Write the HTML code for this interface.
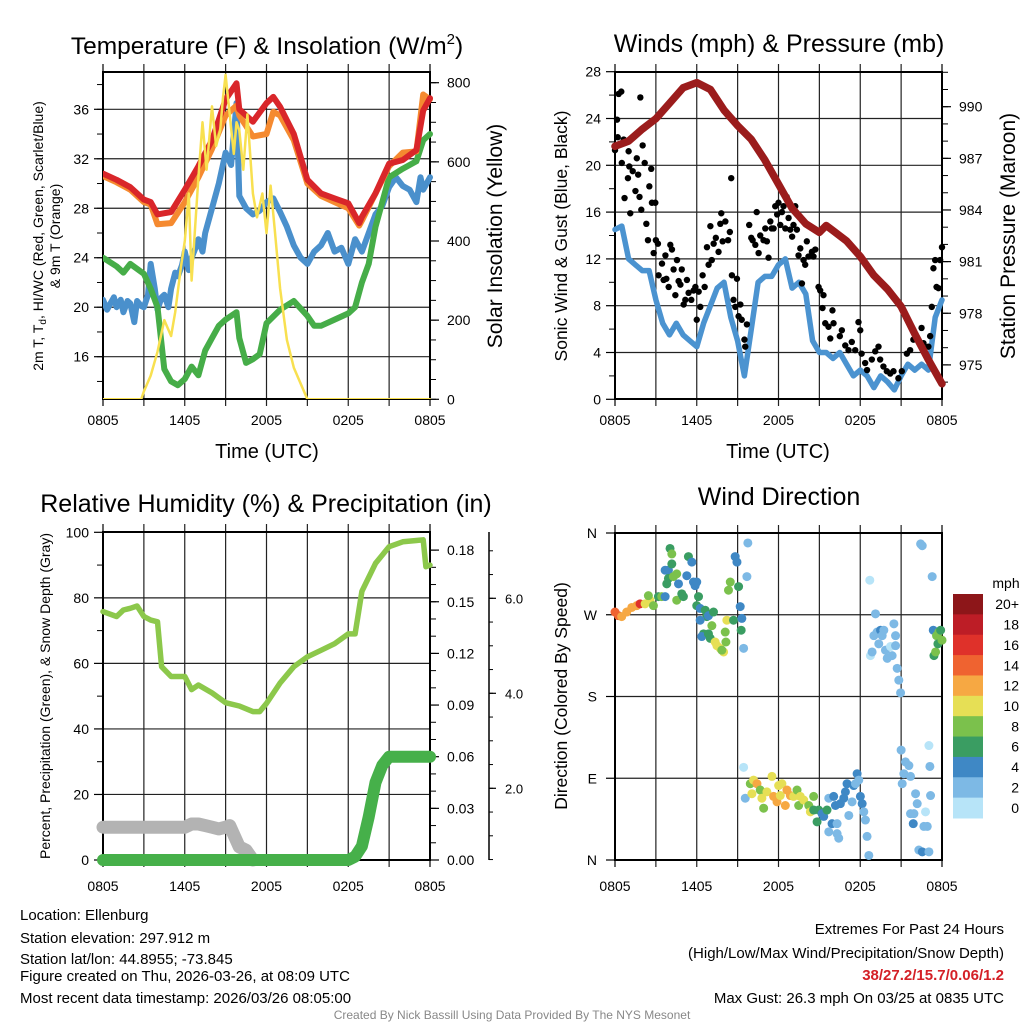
<!DOCTYPE html>
<html><head><meta charset="utf-8"><title>Mesonet Meteogram</title>
<style>
html,body{margin:0;padding:0;background:#fff;}
svg{display:block;font-family:"Liberation Sans",Arial,sans-serif;}
</style></head>
<body>
<svg id="chart" width="1024" height="1024" viewBox="0 0 1024 1024" xmlns="http://www.w3.org/2000/svg">
<rect x="0" y="0" width="1024" height="1024" fill="#fff"/>
<g id="g1"></g>
<g id="g2"></g>
<g id="g3"></g>
<g id="g4"></g>

<text x="267" y="54" font-size="24.5" text-anchor="middle">Temperature (F) &amp; Insolation (W/m<tspan font-size="15" dy="-10">2</tspan><tspan dy="10">)</tspan></text>
<text x="779" y="52" font-size="25" text-anchor="middle">Winds (mph) &amp; Pressure (mb)</text>
<text x="266" y="512" font-size="25" text-anchor="middle">Relative Humidity (%) &amp; Precipitation (in)</text>
<text x="779" y="505" font-size="25" text-anchor="middle">Wind Direction</text>

<text x="267" y="458" font-size="20" text-anchor="middle">Time (UTC)</text>
<text x="778" y="458" font-size="20" text-anchor="middle">Time (UTC)</text>

<text transform="translate(43,236) rotate(-90)" font-size="14" text-anchor="middle">2m T, T<tspan font-size="10" dy="3">d</tspan><tspan dy="-3">, HI/WC (Red, Green, Scarlet/Blue)</tspan></text>
<text transform="translate(60,236) rotate(-90)" font-size="14" text-anchor="middle">&amp; 9m T (Orange)</text>
<text transform="translate(502,236) rotate(-90)" font-size="21" text-anchor="middle">Solar Insolation (Yellow)</text>
<text transform="translate(567,236) rotate(-90)" font-size="17.5" text-anchor="middle">Sonic Wind &amp; Gust (Blue, Black)</text>
<text transform="translate(1015,236) rotate(-90)" font-size="21" text-anchor="middle">Station Pressure (Maroon)</text>
<text transform="translate(50,696) rotate(-90)" font-size="14" text-anchor="middle">Percent, Precipitation (Green), &amp; Snow Depth (Gray)</text>
<text transform="translate(567,696) rotate(-90)" font-size="17.5" text-anchor="middle">Direction (Colored By Speed)</text>

<g font-size="15">
<text x="20" y="920">Location: Ellenburg</text>
<text x="20" y="943">Station elevation: 297.912 m</text>
<text x="20" y="964">Station lat/lon: 44.8955; -73.845</text>
<text x="20" y="981">Figure created on Thu, 2026-03-26, at 08:09 UTC</text>
<text x="20" y="1003">Most recent data timestamp: 2026/03/26 08:05:00</text>
</g>
<g font-size="15" text-anchor="end">
<text x="1004" y="934">Extremes For Past 24 Hours</text>
<text x="1004" y="958">(High/Low/Max Wind/Precipitation/Snow Depth)</text>
<text x="1004" y="980" fill="#d42027" font-weight="bold">38/27.2/15.7/0.06/1.2</text>
<text x="1004" y="1003">Max Gust: 26.3 mph On 03/25 at 0835 UTC</text>
</g>
<text x="512" y="1019" font-size="12" fill="#888" text-anchor="middle">Created By Nick Bassill Using Data Provided By The NYS Mesonet</text>
</svg>
<script>
// ---------- data ----------
const xTickLabels = ["0805","1405","2005","0205","0805"];
const tempTicks = [16,20,24,28,32,36];
const solarTicks = [0,200,400,600,800];
const windTicks = [0,4,8,12,16,20,24,28];
const presTicks = [975,978,981,984,987,990];
const rhTicks = [0,20,40,60,80,100];
const precipTicks = [0.00,0.03,0.06,0.09,0.12,0.15,0.18];
const precipTickLabels = ["0.00","0.03","0.06","0.09","0.12","0.15","0.18"];
const snowTickLabels = ["2.0","4.0","6.0"];
const dirTickLabels = ["N","E","S","W","N"];
const speedBins = ["0","2","4","6","8","10","12","14","16","18","20+"];

const tempT   = [0,1,2,3,3.5,4,5,6,7,8,9,9.8,10,11,12,12.5,13,14,15,16,17,18,18.8,19,20,21,22,23,23.5,24];
const tempRed = [30.8,30.3,29.7,28.7,28.5,27.5,27.7,29.5,31.4,33.5,36.8,38.1,36,35,36.5,37,36.2,34,30.3,29.2,28.8,28.4,26.8,27.3,29.2,31.6,31.9,32.7,35.9,36.9];
const tempOrange = [30.6,30.1,29.5,28.5,28.3,26.7,26.8,28.5,30.5,32.8,35.5,36.3,35.5,33.8,34.0,35.8,35.5,33.5,30.0,29.0,28.5,28.0,26.6,27.0,29.2,31.4,32.5,32.6,37.2,36.8];
const wcT    = [0,0.3,0.5,0.8,1,1.3,1.5,1.8,2,2.3,2.5,2.8,3,3.3,3.5,3.8,4,4.3,4.5,4.8,5,5.3,5.5,5.8,6,6.3,6.5,6.8,7,7.3,7.5,8,8.5,9,9.4,9.8,10,10.5,11,11.5,12,12.5,13,13.5,14,14.5,15,15.5,16,16.5,17,17.5,18,18.5,19,19.5,20,20.5,21,21.5,22,22.5,23,23.3,23.5,24];
const wcBlue = [20.6,19.8,20.2,20.8,20.0,20.6,19.6,20.5,20.3,18.8,20.5,20.1,20.0,21.0,23.5,21.5,19.8,20.8,21.0,20.0,21.5,22.8,22.5,23.4,24.5,23.0,24.0,24.8,25.5,24.5,26.0,28.0,30.0,32.5,31.5,36.5,29.0,28.0,27.5,27.8,28.5,28.8,27.7,26.5,25.0,24.0,23.5,24.5,25.0,26.0,24.5,24.8,23.5,25.5,24.5,26.0,27.5,28.2,29.7,30.5,29.8,29.5,28.5,30.5,29.5,30.5];
const dewT   = [0,1,1.5,2,3,3.5,4,4.5,5,5.5,6,6.5,7,7.5,8,8.5,9,9.8,10,10.5,11,11.5,12,13,14,15,15.5,16,17,18,18.5,19,19.5,20,21,22,23,23.5,24];
const dewGreen=[24,23.3,22.8,23.5,22.7,21.5,20.0,15.0,14.0,13.7,14.2,15.2,14.5,16.5,17.5,18.5,19.0,19.6,17.5,15.5,15.8,16.2,18.7,19.8,20.5,19.3,18.5,18.5,19.0,19.5,20.0,22.0,23.5,26.5,30.5,31.2,31.8,33.5,34.0];
const solarT = [0,2.8,3,3.5,4,4.5,5,5.3,5.7,6,6.3,6.5,7,7.3,7.6,8,8.3,8.6,8.8,9,9.3,9.6,9.8,10,10.3,10.6,11,11.3,11.7,12,12.3,12.6,13,13.5,14,14.5,15,24];
const solarV = [0,0,20,60,120,200,160,220,330,400,520,300,560,700,580,740,640,680,760,820,720,620,700,680,580,720,520,460,520,420,540,430,280,150,80,40,0,0];

const windT = [0,0.5,1,1.5,2,2.5,3,3.5,4,4.5,5,5.5,6,6.5,7,7.5,8,8.5,9,9.5,10,10.5,11,11.5,12,12.5,13,13.5,14,14.5,15,15.5,16,16.5,17,17.5,18,18.5,19,19.5,20,20.5,21,21.5,22,22.5,23,23.5,24];
const windV = [14.5,14.8,12,11.5,11.0,11,8.5,6.5,5.5,6.5,5.5,5.0,4.5,6.5,8.0,9.5,10.0,7.0,5.0,2.0,6.0,10.0,10.5,10.5,11.5,12.0,9.5,10,9.0,5.0,4.0,4.0,3.5,4.0,3.0,2.0,2.5,2.0,1.0,2.0,1.5,0.8,2.0,3.0,2.5,3.0,2.5,7.0,8.5];
const gustT = [0,0.15,0.27,0.46,0.2,0.5,0.64,0.7,0.95,1.0,1.05,1.12,1.3,1.5,1.6,1.7,1.8,1.86,1.93,2.03,2.18,2.3,2.42,2.52,2.66,2.71,2.84,2.96,3.0,3.15,3.2,3.45,3.57,3.7,3.77,3.94,4.06,4.18,4.3,4.43,4.55,4.67,4.8,4.9,5.04,5.16,5.28,5.4,5.6,5.77,5.9,6.0,6.14,6.26,6.43,6.58,6.75,6.87,7.0,7.1,7.24,7.4,7.6,7.73,7.8,7.9,8.1,8.3,8.43,8.53,8.58,8.7,8.83,8.95,9.07,9.2,9.3,9.5,9.56,9.68,9.85,10.0,10.1,10.3,10.4,10.54,10.66,10.9,11.03,11.15,11.27,11.4,11.5,11.64,11.76,11.9,12.0,12.13,12.25,12.37,12.5,12.6,12.74,12.86,13.0,13.1,13.23,13.35,13.47,13.6,13.72,13.84,13.96,14.08,14.2,14.45,14.57,14.7,14.94,15.06,15.3,15.23,15.43,15.67,15.8,15.96,16.04,16.5,16.65,16.9,17.14,17.38,17.63,17.87,18.0,18.1,18.36,18.5,18.85,19.1,19.34,19.46,19.7,19.95,20.2,20.44,20.8,21.05,21.42,21.66,21.9,22.15,22.5,22.64,23.0,23.13,23.25,23.37,23.5,23.6,23.74,23.86,24.0];
const gustV = [21.3,23.9,26.1,26.3,22.4,20.2,22.2,17.2,18.9,21.2,19.9,15.9,19.5,17.8,20.6,19.2,17.3,25.8,16.2,21.7,20.2,15.0,13.6,18.2,19.7,16.8,12.5,16.8,13.6,13.3,10.6,11.6,10.2,12.3,10.3,9.6,13.2,12.8,11.1,8.9,11.9,10.1,9.8,11.1,8.1,8.5,10.2,9.1,8.5,9.3,9.6,6.8,9.2,7.9,10.6,9.6,13.0,11.5,14.8,11.9,13.3,13.8,12.6,15.0,15.9,13.5,15.2,13.6,14.3,18.9,10.6,8.5,7.9,10.3,7.1,8.1,6.8,5.1,4.5,6.4,14.9,13.8,13.6,13.2,16.0,12.5,14.0,13.6,14.6,13.5,12.1,15.2,14.6,14.6,16.5,15.8,16.8,14.9,16.0,16.5,14.6,17.3,15.5,14.5,13.9,14.9,16.5,14.5,12.3,12.9,9.9,11.9,11.5,13.5,12.2,12.6,12.2,12.8,9.6,9.3,8.9,7.8,6.5,6.2,5.2,7.6,6.5,5.4,5.9,4.6,4.2,4.9,4.2,6.6,5.9,3.9,3.1,2.5,3.4,4.1,4.5,3.4,2.8,2.4,2.2,2.4,1.8,2.4,3.9,4.2,5.1,5.2,6.1,4.8,4.5,5.4,7.9,11.2,11.9,9.6,9.5,11.9,13.0];
const presT = [0,1,2,3,4,5,6,7,8,9,10,11,12,13,14,15,15.5,16,17,18,19,20,21,22,23,24];
const presV = [987.7,988.0,988.7,989.3,990.2,991.1,991.4,991.0,989.8,988.9,988.1,986.9,985.5,984.1,983.2,982.7,983.1,982.8,982.2,981.3,980.2,979.4,978.4,976.8,975.3,973.9];

const rhT = [0,1,1.5,2,2.5,3,3.5,4,4.3,5,6,6.5,7,8,9,10,11,11.5,12,13,14,15,16,17,18,18.5,19,20,21,22,23,23.5,23.7,24];
const rhV = [75.8,74.3,76.3,76.8,77.5,74.3,73.2,72.7,59,56,56,52,53.4,51,48,47,45.3,45.3,47.8,54,59,62,64,66,69,69,82,90.5,95.6,97.1,97.5,97.7,89.5,90];
const precipT = [0,18,18.5,19,19.5,20,20.5,21,24];
const precipV = [0,0,0.002,0.008,0.025,0.045,0.055,0.06,0.06];
const snowT = [0,6,6.5,7,7.5,8,8.5,9,9.3,10,10.5,11];
const snowV = [10,10,11,11,10.5,10,9.5,10,10.5,4,3,0];

const dirT = [0,0.25,0.49,0.86,1.23,1.59,1.84,2.21,2.57,2.45,2.82,3.19,3.43,3.68,3.68,3.92,4.04,4.17,4.17,3.92,3.8,4.29,4.53,4.53,4.66,4.9,5.02,5.27,5.39,5.64,5.76,5.88,6.0,6.13,6.0,6.25,6.62,6.74,6.86,6.25,6.5,6.37,6.86,6.99,7.11,7.23,7.35,7.48,7.72,7.97,7.84,8.21,8.09,8.14,8.46,8.33,8.7,8.82,8.95,9.07,9.19,9.31,9.26,9.44,9.68,9.75,
9.44,9.56,9.93,10.05,10.17,10.42,10.66,10.78,10.91,11.15,11.52,11.64,11.89,12.01,12.13,12.25,12.5,12.62,12.87,13.11,13.36,13.48,13.6,13.85,14.22,14.34,14.58,14.58,14.83,14.95,15.2,15.32,15.56,15.69,15.69,15.93,16.05,16.18,16.3,16.42,16.3,16.54,16.79,16.91,17.03,17.16,17.4,17.52,17.65,17.77,17.89,18.01,18.14,18.26,18.38,18.5,18.63,
18.7,18.75,18.87,19.0,19.12,19.24,19.36,19.49,19.61,19.73,19.85,19.98,20.22,20.34,20.47,20.59,20.59,20.71,20.83,20.96,21.0,21.08,21.2,21.32,21.57,21.69,21.69,21.94,21.89,22.06,22.18,22.3,22.43,22.55,22.55,22.67,22.79,22.92,23.04,23.04,23.11,23.16,23.28,23.36,23.41,23.53,23.6,23.7,23.77,23.9,24.0];
const dirDeg = [273,269,268,273,278,280,282,282,286,291,280,290,290,290,319,319,343,337,326,310,304,312,315,286,304,293,290,313,334,328,306,302,306,290,280,277,275,268,269,264,249,246,249,244,258,273,240,236,233,229,231,264,251,240,306,297,264,334,328,301,279,266,253,233,312,349,
102,68,84,73,88,84,77,68,57,75,92,70,64,82,71,84,60,77,71,70,77,60,70,66,60,53,70,55,42,55,51,48,55,68,31,40,70,60,29,24,40,62,68,75,84,49,64,82,84,95,88,70,62,53,44,26,5,
308,225,229,247,271,251,238,253,247,253,231,222,235,225,260,247,236,211,198,184,121,84,95,108,104,92,51,51,40,73,62,11,348,346,9,37,53,37,126,9,103,71,312,253,225,229,247,238,251,253,242];
const dirSpd = [14,14,13,13,12,12,16,10,10,8,8,6,8,4,4,4,6,8,6,6,6,8,8,8,4,6,6,4,6,4,4,4,4,6,6,4,6,6,4,4,6,4,6,6,8,6,10,10,10,10,8,10,8,8,8,8,6,4,4,6,4,4,6,2,2,2,
1,2,8,10,10,12,8,10,8,10,10,12,12,10,10,10,12,12,12,10,8,8,10,10,8,10,8,6,6,6,4,4,6,2,2,4,4,4,2,2,2,4,4,4,4,2,2,4,2,4,2,4,4,2,2,2,2,
0,0,2,2,2,2,2,4,2,2,2,2,0,2,2,2,2,2,2,2,2,2,2,2,2,2,2,2,4,2,2,2,2,2,4,2,0,2,0,2,2,2,2,4,6,8,8,6,8,6,8];
const speedColors = ["#b7e4f8","#7db9e5","#3f88c5","#3a9d62","#7bc14c","#e6df55","#f6a843","#ef6330","#df312a","#bd1d26","#8d1619"];

// ---------- helpers ----------
const NS = "http://www.w3.org/2000/svg";
function mk(parent, tag, attrs){ const e=document.createElementNS(NS,tag); for(const k in attrs) e.setAttribute(k,attrs[k]); parent.appendChild(e); return e; }
function line(parent,x1,y1,x2,y2,w,c){ return mk(parent,"line",{x1,y1,x2,y2,stroke:c||"#000","stroke-width":w||1}); }
function txt(parent,x,y,s,size,anchor){ const e=mk(parent,"text",{x,y,"font-size":size,"text-anchor":anchor||"middle"}); e.textContent=s; return e; }
function linear(d0,d1,r0,r1){ return v=>r0+(v-d0)*(r1-r0)/(d1-d0); }
function pathD(xs,ys,sx,sy){ return xs.map((t,i)=>(i?"L":"M")+sx(t).toFixed(1)+","+sy(ys[i]).toFixed(1)).join(""); }

function frame(g,x0,x1,y0,y1,hticks,sy){
  for(let h=3;h<24;h+=3){ const x=linear(0,24,x0,x1)(h); line(g,x,y0-8,x,y1+7,1.2,"#222"); }
  line(g,x0,y0-8,x0,y0,1.2); line(g,x1,y0-8,x1,y0,1.2);
  line(g,x0,y1,x0,y1+7,1.2); line(g,x1,y1,x1,y1+7,1.2);
  hticks.forEach(v=>{ const y=sy(v); line(g,x0,y,x1,y,1.2,"#222"); });
  const r=mk(g,"rect",{x:x0,y:y0,width:x1-x0,height:y1-y0,fill:"none",stroke:"#000","stroke-width":2});
  
  
}
function xLabels(g,x0,x1,y){
  xTickLabels.forEach((s,i)=>{ const t=txt(g,linear(0,4,x0,x1)(i),y,s,14);
    
     });
}

// ---------- panel 1 ----------
(function(){
  const g=document.getElementById("g1");
  const x0=103,x1=430,y0=72,y1=399;
  const sx=linear(0,24,x0,x1);
  const sy=linear(36,16,109.3,356.7);
  const ss=linear(0,800,399.3,82.7);
  frame(g,x0,x1,y0,y1,tempTicks,sy);
  for(let v=14;v<=38;v+=2){ line(g,x0-6,sy(v),x0,sy(v),1); }
  tempTicks.forEach(v=>{ line(g,x0-9,sy(v),x0,sy(v),1.2); const t=txt(g,x0-14,sy(v)+5,String(v),14,"end");
    
     });
  for(let v=0;v<=800;v+=50){ line(g,x1,ss(v),x1+6,ss(v),1); }
  solarTicks.forEach(v=>{ line(g,x1,ss(v),x1+9,ss(v),1.2); const t=txt(g,x1+17,ss(v)+5,String(v),14,"start");
    
     });
  xLabels(g,x0,x1,425);
  const cp=mk(g,"clipPath",{id:"c1"}); mk(cp,"rect",{x:x0,y:y0-4,width:x1-x0+4,height:y1-y0+4});
  const series=[[wcT,wcBlue,"#4a90cc",6,"wind-chill-line",sy],[dewT,dewGreen,"#46ad48",6,"dewpoint-line",sy],[tempT,tempOrange,"#f58a30",6,"temp-9m-line",sy],[tempT,tempRed,"#d9262a",6,"temp-2m-line",sy],[solarT,solarV,"#f8e050",2.5,"solar-line",ss]];
  series.forEach(s=>{ const p=mk(g,"path",{d:pathD(s[0],s[1],sx,s[5]),fill:"none",stroke:s[2],"stroke-width":s[3],"stroke-linejoin":"round","stroke-linecap":"round","clip-path":"url(#c1)"});
    
     });
})();

// ---------- panel 2 ----------
(function(){
  const g=document.getElementById("g2");
  const x0=615,x1=942,y0=72,y1=399;
  const sx=linear(0,24,x0,x1);
  const sy=linear(0,28,399.3,71.7);
  const sp=linear(990,975,106.7,364.9);
  frame(g,x0,x1,y0,y1,windTicks,sy);
  for(let v=2;v<=26;v+=4){ line(g,x0-6,sy(v),x0,sy(v),1); }
  windTicks.forEach(v=>{ line(g,x0-9,sy(v),x0,sy(v),1.2); const t=txt(g,x0-14,sy(v)+5,String(v),14,"end");
    
     });
  for(let v=973;v<=992;v+=1){ const y=sp(v); if(y>y0&&y<y1) line(g,x1,y,x1+6,y,1); }
  presTicks.forEach(v=>{ line(g,x1,sp(v),x1+9,sp(v),1.2); const t=txt(g,x1+17,sp(v)+5,String(v),14,"start");
    
     });
  xLabels(g,x0,x1,425);
  const w=mk(g,"path",{d:pathD(windT,windV,sx,sy),fill:"none",stroke:"#4b93d0","stroke-width":5.5,"stroke-linejoin":"round","stroke-linecap":"round"});
  
  
  gustT.forEach((t,i)=>{ const c=mk(g,"circle",{cx:sx(t),cy:sy(gustV[i]),r:3.2,fill:"#000"});
    
     });
  const p=mk(g,"path",{d:pathD(presT,presV,sx,sp),fill:"none",stroke:"#9b1c1c","stroke-width":7.5,"stroke-linejoin":"round","stroke-linecap":"round"});
  
  
})();

// ---------- panel 3 ----------
(function(){
  const g=document.getElementById("g3");
  const x0=103,x1=430,y0=532,y1=860;
  const sx=linear(0,24,x0,x1);
  const sy=linear(0,100,860,532.3);
  const spr=linear(0,0.06,860,756.7);
  const ssn=linear(2,4,788.3,693.3);
  frame(g,x0,x1,y0,y1,rhTicks,sy);
  for(let v=10;v<=90;v+=20){ line(g,x0-6,sy(v),x0,sy(v),1); }
  rhTicks.forEach(v=>{ line(g,x0-9,sy(v),x0,sy(v),1.2); const t=txt(g,x0-14,sy(v)+5,String(v),14,"end");
    
     });
  for(let v=0;v<=0.19;v+=0.01){ line(g,x1,spr(v),x1+6,spr(v),1); }
  precipTicks.forEach((v,i)=>{ line(g,x1,spr(v),x1+9,spr(v),1.2); const t=txt(g,x1+17,spr(v)+5,precipTickLabels[i],14,"start");
    
     });
  const ax=489;
  line(g,ax,y0,ax,y1,1.5);
  for(let v=0.5;v<=7;v+=0.5){ const y=ssn(v); if(y>=y0&&y<=y1) line(g,ax,y,ax+4,y,1); }
  snowTickLabels.forEach((s,i)=>{ const v=(i+1)*2; line(g,ax,ssn(v),ax+7,ssn(v),1.2); const t=txt(g,ax+16,ssn(v)+5,s,13,"start");
    
     });
  xLabels(g,x0,x1,891);
  const sn=mk(g,"path",{d:pathD(snowT,snowV,sx,sy),fill:"none",stroke:"#b3b3b3","stroke-width":13,"stroke-linejoin":"round","stroke-linecap":"round"});
  
  
  const pr=mk(g,"path",{d:pathD(precipT,precipV,sx,spr),fill:"none",stroke:"#46b04a","stroke-width":12,"stroke-linejoin":"round","stroke-linecap":"round"});
  
  
  const rh=mk(g,"path",{d:pathD(rhT,rhV,sx,sy),fill:"none",stroke:"#8cc84b","stroke-width":5.5,"stroke-linejoin":"round","stroke-linecap":"round"});
  
  
})();

// ---------- panel 4 ----------
(function(){
  const g=document.getElementById("g4");
  const x0=615,x1=942,y0=533,y1=860;
  const sx=linear(0,24,x0,x1);
  const sy=linear(0,360,860,533);
  frame(g,x0,x1,y0,y1,[90,180,270],sy);
  [0,90,180,270,360].forEach((v,i)=>{ line(g,x0-9,sy(v),x0,sy(v),1.2); const t=txt(g,x0-18,sy(v)+5,dirTickLabels[i],14,"end");
    
     });
  xLabels(g,x0,x1,891);
  dirT.forEach((t,i)=>{ const s=dirSpd[i]; const ci=Math.min(10,Math.floor(s/2));
    const c=mk(g,"circle",{cx:sx(t),cy:sy(dirDeg[i]),r:4.5,fill:speedColors[ci]});
    
     });
  const cbX=953,cbW=30,cbTop=594,cbH=224,n=speedBins.length,bh=cbH/n;
  const mph=txt(g,1006,588,"mph",14,"middle");
  
  
  speedBins.forEach((lab,i)=>{ const k=n-1-i; const y=cbTop+i*bh;
    const r=mk(g,"rect",{x:cbX,y:y,width:cbW,height:bh+0.5,fill:speedColors[k]});
    
    
    const t=txt(g,1019,y+bh/2+5,speedBins[k],14,"end");
    
     });
})();
</script>
</body></html>
